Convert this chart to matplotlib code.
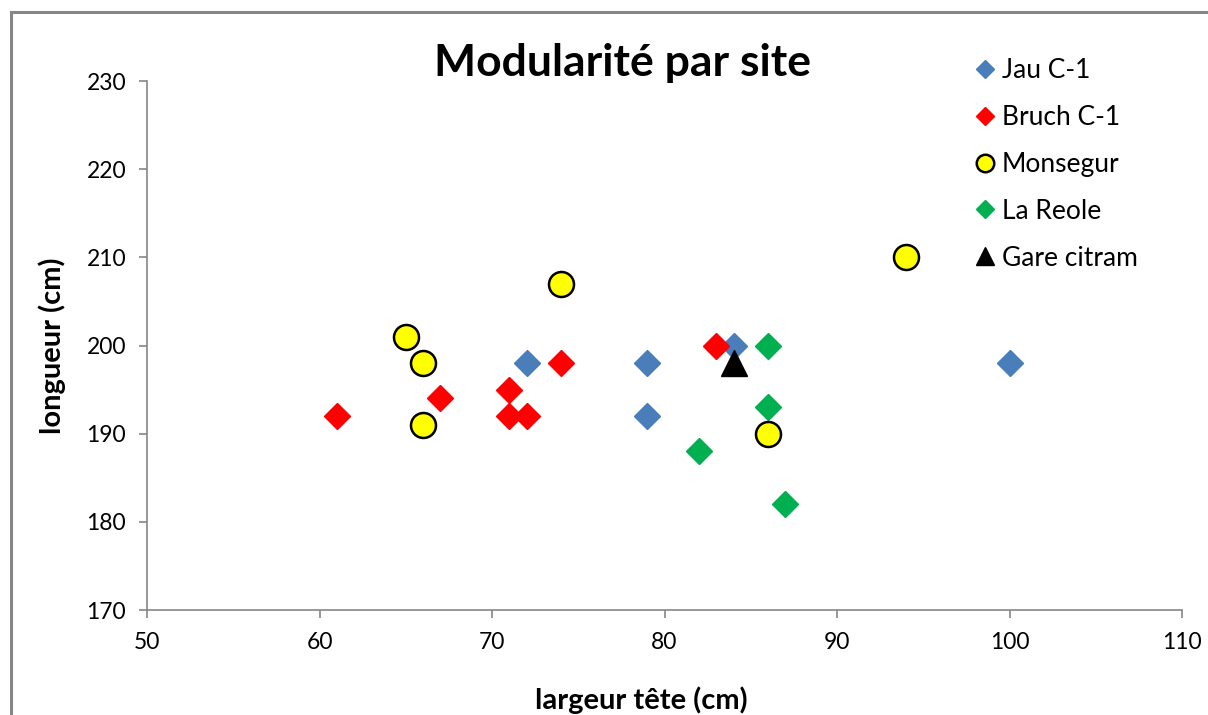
import matplotlib
matplotlib.use("Agg")
import matplotlib.pyplot as plt
from matplotlib.patches import Rectangle

plt.rcParams['font.family'] = ['Lato', 'DejaVu Sans']

# Data
jau_x = [72, 79, 79, 84, 100]
jau_y = [198, 198, 192, 200, 198]
bruch_x = [61, 67, 71, 71, 72, 74, 83]
bruch_y = [192, 194, 195, 192, 192, 198, 200]
mons_x = [65, 66, 66, 74, 86, 94]
mons_y = [201, 198, 191, 207, 190, 210]
reole_x = [82, 86, 86, 87]
reole_y = [188, 200, 193, 182]
gare_x = [84]
gare_y = [198]

title = "Modularité par site"
xlabel = "largeur tête (cm)"
ylabel = "longueur (cm)"
xticks = [50, 60, 70, 80, 90, 100, 110]
yticks = [170, 180, 190, 200, 210, 220, 230]

W, H = 1208, 715
fig = plt.figure(figsize=(W / 100, H / 100), dpi=100)
ax = fig.add_axes([147 / W, 1 - 610 / H, (1182 - 147) / W, (610 - 81) / H])

ax.plot(jau_x, jau_y, 'D', ms=13.5, color='#4A7EBB', mec='#4A7EBB', label='Jau C-1', zorder=3)
ax.plot(bruch_x, bruch_y, 'D', ms=13.5, color='#FF0000', mec='#FF0000', label='Bruch C-1', zorder=4)
ax.plot(mons_x, mons_y, 'o', ms=18, color='#FFFF00', mec='black', mew=1.8, label='Monsegur', zorder=6)
ax.plot(reole_x, reole_y, 'D', ms=13.5, color='#00B050', mec='#00B050', label='La Reole', zorder=5)
ax.plot(gare_x, gare_y, '^', ms=19, color='black', mec='black', label='Gare citram', zorder=7)

ax.set_xlim(50, 110)
ax.set_ylim(170, 230)
ax.set_xticks(xticks)
ax.set_yticks(yticks)
for s in ['top', 'right']:
    ax.spines[s].set_visible(False)
for s in ['left', 'bottom']:
    ax.spines[s].set_color('#868686')
    ax.spines[s].set_linewidth(1.2)
ax.tick_params(axis='both', direction='out', length=6, width=1.2, color='#868686',
               labelsize=16.5, labelcolor='black')
ax.tick_params(axis='x', pad=10)
ax.tick_params(axis='y', pad=9)

fig.text(622 / W, 1 - 63 / H, title, ha='center', va='center', fontsize=32, fontweight='bold')
fig.text(641 / W, 1 - 700 / H, xlabel, ha='center', va='center', fontsize=21, fontweight='bold')
fig.text(52 / W, 1 - 346 / H, ylabel, ha='center', va='center', rotation=90, fontsize=21, fontweight='bold')

leg = fig.legend(loc='upper left', bbox_to_anchor=(973 / W, 1 - 58 / H), frameon=False,
                 fontsize=19, markerscale=0.7, handlelength=0.9, handletextpad=0.2,
                 labelspacing=0.83, borderaxespad=0, borderpad=0)

fig.patches.append(Rectangle((10.5 / W, -0.2), 2, 1.2 + (1 - 11.5 / H) - 1, transform=fig.transFigure,
                             fill=False, edgecolor='#868686', lw=2.2))

fig.savefig('out.png', dpi=100)
